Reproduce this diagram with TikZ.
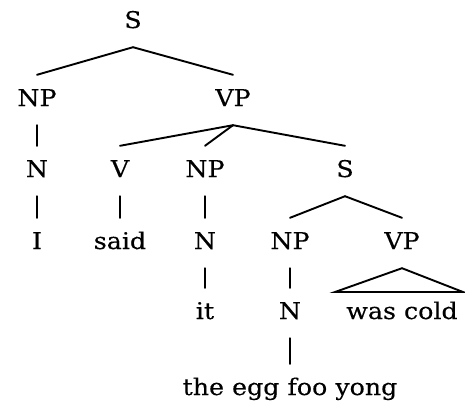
\documentclass[tikz,border=0pt]{standalone}
\usepackage{fontspec}
\setmainfont[FakeStretch=1.1,FakeBold=0.3]{DejaVu Serif}
\begin{document}
\begin{tikzpicture}[x=1pt,y=-1pt,
  cat/.style={font=\fontsize{23}{25}\selectfont, text height=16pt, text depth=4pt,
    inner xsep=0pt, inner ysep=15pt},
  branch/.style={line width=1.9pt, line cap=round}]
\useasboundingbox (0,0) rectangle (465,408);
% level 0
\node[cat] (s0) at (133,22) {S};
% level 1
\node[cat] (np1) at (37,100) {NP};
\node[cat] (vp1) at (233,100) {VP};
% level 2
\node[cat] (n1) at (37,171) {N};
\node[cat] (v) at (120,171) {V};
\node[cat] (np2) at (205,171) {NP};
\node[cat] (s1) at (345,171) {S};
% level 3
\node[cat] (i) at (37,243) {I};
\node[cat] (said) at (120,243) {said};
\node[cat] (n2) at (205,243) {N};
\node[cat] (np3) at (290,243) {NP};
\node[cat] (vp2) at (402,243) {VP};
% level 4
\node[cat] (it) at (205,313) {it};
\node[cat] (n3) at (290,313) {N};
\node[cat] (wc) at (402,313) {was cold};
% level 5
\node[cat] (egg) at (290,389) {the egg foo yong};
% roof over the unanalysed VP
\coordinate (roofl) at (335,292);
\coordinate (roofr) at (463,292);

\draw[branch] (s0.south) -- (np1.north);
\draw[branch] (s0.south) -- (vp1.north);
\draw[branch] (np1.south) -- (n1.north);
\draw[branch] (vp1.south) -- (v.north);
\draw[branch] (vp1.south) -- (np2.north);
\draw[branch] (vp1.south) -- (s1.north);
\draw[branch] (n1.south) -- (i.north);
\draw[branch] (v.south) -- (said.north);
\draw[branch] (np2.south) -- (n2.north);
\draw[branch] (s1.south) -- (np3.north);
\draw[branch] (s1.south) -- (vp2.north);
\draw[branch] (n2.south) -- (it.north);
\draw[branch] (np3.south) -- (n3.north);
\draw[branch] (n3.south) -- (egg.north);
\draw[branch, line join=miter] (vp2.south) -- (roofl) -- (roofr) -- cycle;
\end{tikzpicture}
\end{document}
